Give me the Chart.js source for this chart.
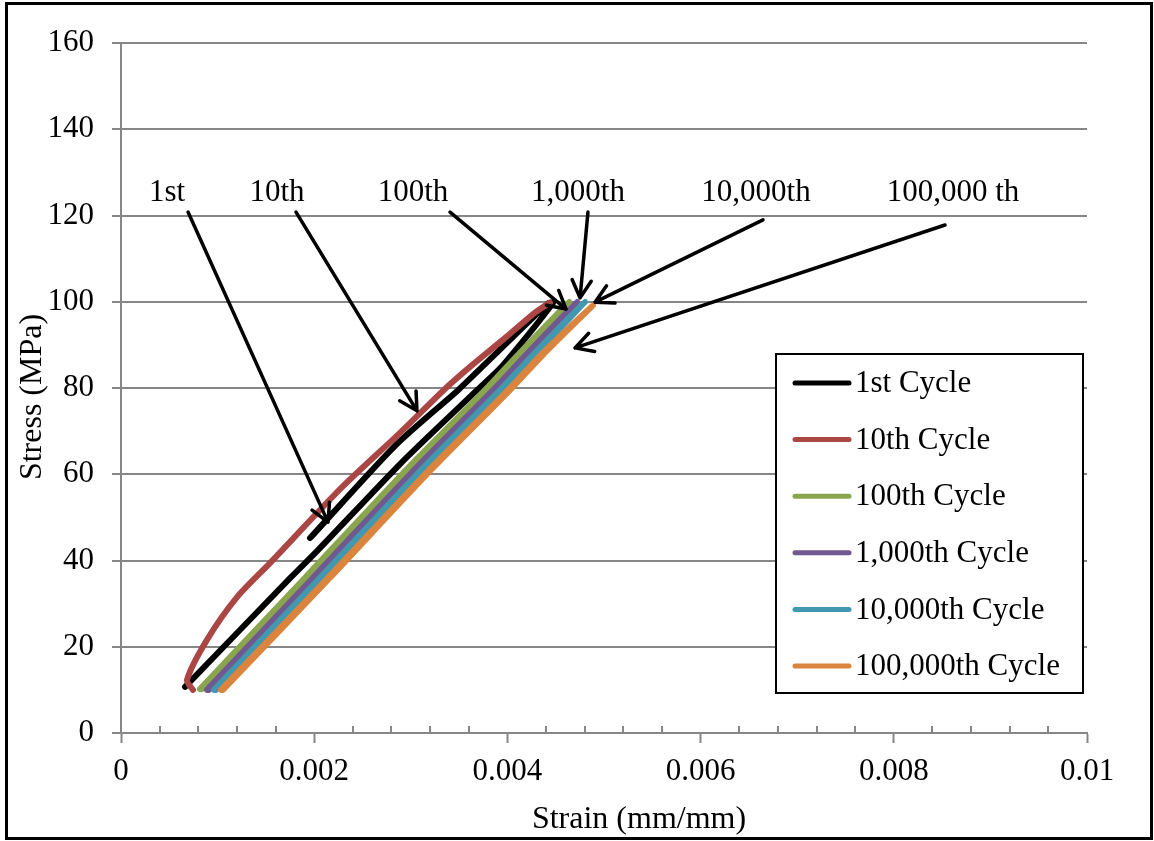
<!DOCTYPE html>
<html>
<head>
<meta charset="utf-8">
<title>Stress-strain cycles</title>
<script src="https://cdn.jsdelivr.net/npm/chart.js@4.4.1/dist/chart.umd.min.js"></script>
<style>
  html, body { margin: 0; padding: 0; background: #fff; }
  #wrap { width: 1154px; height: 841px; }
</style>
</head>
<body>
<div id="wrap"><canvas id="cycleChart" width="1154" height="841"></canvas></div>
<script>
const SERIF = "'Liberation Serif', 'Times New Roman', serif";
const GRID = '#868686';

// Series
const cycleLabels = ['1st Cycle', '10th Cycle', '100th Cycle', '1,000th Cycle', '10,000th Cycle', '100,000th Cycle'];
const cycleColors = ['#000000', '#AA4643', '#89A54E', '#71588F', '#4198AF', '#DB843D'];

// 1st cycle: starts part way up, goes to peak, then unloads to the minimum
const strain1 = [0.001957, 0.002847, 0.003489, 0.003758, 0.00442, 0.004472, 0.003954, 0.003685, 0.002899, 0.002039, 0.00175, 0.000663];
const stress1 = [45.2, 66.8, 79.5, 85.3, 99.6, 99.7, 85.3, 79.5, 62.6, 42.4, 35.9, 10.7];

const strain10 = [0.000745, 0.000683, 0.00089, 0.001201, 0.001542, 0.002288, 0.002888, 0.003364, 0.003634, 0.003986, 0.004286, 0.004441];
const stress10 = [10.0, 12.3, 21.6, 31.5, 39.4, 57.0, 69.6, 80.0, 85.3, 91.8, 97.5, 99.8];

const strain100 = [0.000818, 0.001905, 0.002909, 0.003768, 0.00411, 0.004638, 0.00413, 0.003788, 0.002929, 0.001925, 0.000838];
const stress100 = [10.2, 36, 60, 79.5, 87.7, 100, 87.7, 79.5, 60, 36, 10.2];

const strain1k = [0.00089, 0.001988, 0.002992, 0.003851, 0.004193, 0.00472, 0.004213, 0.003871, 0.003012, 0.002008, 0.00091];
const stress1k = [10, 36, 60, 79.5, 87.7, 100, 87.7, 79.5, 60, 36, 10];

const strain10k = [0.000963, 0.00206, 0.003064, 0.003923, 0.004265, 0.004803, 0.004285, 0.003943, 0.003084, 0.00208, 0.000983];
const stress10k = [10, 36, 60, 79.5, 87.7, 100, 87.7, 79.5, 60, 36, 10];

const strain100k = [0.001035, 0.002143, 0.003147, 0.004006, 0.004348, 0.004886, 0.004368, 0.004026, 0.003167, 0.002163, 0.001055];
const stress100k = [10, 36, 60, 79.5, 87.7, 99.2, 87.7, 79.5, 60, 36, 10];

const seriesStrain = [strain1, strain10, strain100, strain1k, strain10k, strain100k];
const seriesStress = [stress1, stress10, stress100, stress1k, stress10k, stress100k];

// Arrow call-outs (strain, stress)
const noteText = ['1st', '10th', '100th', '1,000th', '10,000th', '100,000 th'];
const noteX = [0.000476, 0.001615, 0.003023, 0.004731, 0.006573, 0.008613];
const noteY = 125.2;
const arrowTail = [[0.000694, 120.8], [0.001812, 120.8], [0.003406, 120.8], [0.004834, 120.8], [0.006646, 119.0], [0.00853, 117.8]];
const arrowTip = [[0.002143, 48.9], [0.003064, 74.7], [0.004607, 98.3], [0.004752, 100.9], [0.004907, 99.9], [0.0047, 89.3]];

const datasets = cycleLabels.map((label, i) => ({
  label,
  data: seriesStrain[i].map((x, j) => ({ x, y: seriesStress[i][j] })),
  borderColor: cycleColors[i],
  backgroundColor: cycleColors[i],
  borderWidth: 6,
  borderCapStyle: 'round',
  borderJoinStyle: 'round',
  pointRadius: 0,
  showLine: true,
  tension: 0.25,
  order: cycleLabels.length - i
}));

// white page, outer frame and the two axis titles
const framePlugin = {
  id: 'frame',
  beforeDraw(chart) {
    const ctx = chart.ctx;
    ctx.save();
    ctx.fillStyle = '#fff';
    ctx.fillRect(0, 0, chart.width, chart.height);
    ctx.restore();
  },
  afterDraw(chart) {
    const { ctx, chartArea } = chart;
    ctx.save();
    ctx.fillStyle = '#000';
    ctx.font = '32px ' + SERIF;
    ctx.textAlign = 'center';
    ctx.textBaseline = 'middle';
    ctx.fillText('Strain (mm/mm)', chartArea.left + 518, 820);
    ctx.translate(33, chartArea.top + 354);
    ctx.rotate(-Math.PI / 2);
    ctx.fillText('Stress (MPa)', 0, 0);
    ctx.restore();

    ctx.save();
    ctx.strokeStyle = '#000';
    ctx.lineWidth = 3;
    ctx.strokeRect(6.5, 3.5, chart.width - 9, chart.height - 6);
    ctx.restore();
  }
};

// small inside ticks between the labelled strain values
const minorTicks = {
  id: 'minorTicks',
  afterDraw(chart) {
    const { ctx, chartArea } = chart;
    const xs = chart.scales.x;
    ctx.save();
    ctx.strokeStyle = GRID;
    ctx.lineWidth = 2;
    for (let k = 1; k < 25; k++) {
      if (k % 5 === 0) continue;
      const px = Math.round(xs.getPixelForValue(k * 0.0004));
      ctx.beginPath();
      ctx.moveTo(px, chartArea.bottom);
      ctx.lineTo(px, chartArea.bottom - 7);
      ctx.stroke();
    }
    ctx.restore();
  }
};

const arrowNotes = {
  id: 'arrowNotes',
  afterDatasetsDraw(chart) {
    const { ctx } = chart;
    const xs = chart.scales.x, ys = chart.scales.y;
    ctx.save();
    ctx.fillStyle = '#000';
    ctx.font = '31px ' + SERIF;
    ctx.textAlign = 'center';
    ctx.textBaseline = 'middle';
    noteText.forEach((t, i) => {
      ctx.fillText(t, xs.getPixelForValue(noteX[i]), ys.getPixelForValue(noteY));
    });
    ctx.strokeStyle = '#000';
    ctx.lineWidth = 3.5;
    ctx.lineCap = 'round';
    ctx.lineJoin = 'round';
    arrowTail.forEach((tail, i) => {
      const x0 = xs.getPixelForValue(tail[0]), y0 = ys.getPixelForValue(tail[1]);
      const x1 = xs.getPixelForValue(arrowTip[i][0]), y1 = ys.getPixelForValue(arrowTip[i][1]);
      const ang = Math.atan2(y1 - y0, x1 - x0);
      const head = 20, spread = 0.5;
      ctx.beginPath();
      ctx.moveTo(x0, y0);
      ctx.lineTo(x1, y1);
      ctx.moveTo(x1 - head * Math.cos(ang - spread), y1 - head * Math.sin(ang - spread));
      ctx.lineTo(x1, y1);
      ctx.lineTo(x1 - head * Math.cos(ang + spread), y1 - head * Math.sin(ang + spread));
      ctx.stroke();
    });
    ctx.restore();
  }
};

// boxed legend inside the plot
const boxLegend = {
  id: 'boxLegend',
  afterDraw(chart) {
    const { ctx, chartArea } = chart;
    const left = chartArea.right - 311, top = chartArea.top + 311;
    const w = 307, h = 339;
    ctx.save();
    ctx.fillStyle = '#fff';
    ctx.fillRect(left, top, w, h);
    ctx.strokeStyle = '#000';
    ctx.lineWidth = 2;
    ctx.strokeRect(left, top, w, h);
    ctx.font = '31px ' + SERIF;
    ctx.textBaseline = 'middle';
    ctx.textAlign = 'left';
    chart.data.datasets.forEach((ds, i) => {
      const y = top + 29 + i * 56.6;
      ctx.strokeStyle = ds.borderColor;
      ctx.lineWidth = 5;
      ctx.lineCap = 'round';
      ctx.beginPath();
      ctx.moveTo(left + 19, y);
      ctx.lineTo(left + 73, y);
      ctx.stroke();
      ctx.fillStyle = '#000';
      ctx.fillText(ds.label, left + 79, y + 1);
    });
    ctx.restore();
  }
};

const tickFont = { family: SERIF, size: 31 };

new Chart(document.getElementById('cycleChart'), {
  type: 'scatter',
  data: { datasets },
  options: {
    responsive: false,
    animation: false,
    devicePixelRatio: 1,
    layout: { padding: { top: 43, right: 67, bottom: 0, left: 0 } },
    plugins: {
      legend: { display: false },
      tooltip: { enabled: false }
    },
    scales: {
      x: {
        type: 'linear',
        min: 0,
        max: 0.01,
        ticks: {
          stepSize: 0.002,
          color: '#000',
          font: tickFont,
          padding: 10,
          maxRotation: 0,
          callback: v => String(parseFloat(v.toFixed(4)))
        },
        grid: { drawOnChartArea: false, tickLength: 10, tickColor: GRID, tickWidth: 2 },
        border: { color: GRID, width: 2 },
        afterFit: s => { s.height = 108; }
      },
      y: {
        min: 0,
        max: 160,
        ticks: { stepSize: 20, color: '#000', font: tickFont, padding: 18 },
        grid: { color: GRID, lineWidth: 2, tickLength: 9, tickColor: GRID, tickWidth: 2 },
        border: { color: GRID, width: 2 },
        afterFit: s => { s.width = 121; }
      }
    }
  },
  plugins: [framePlugin, minorTicks, arrowNotes, boxLegend]
});
</script>
</body>
</html>
